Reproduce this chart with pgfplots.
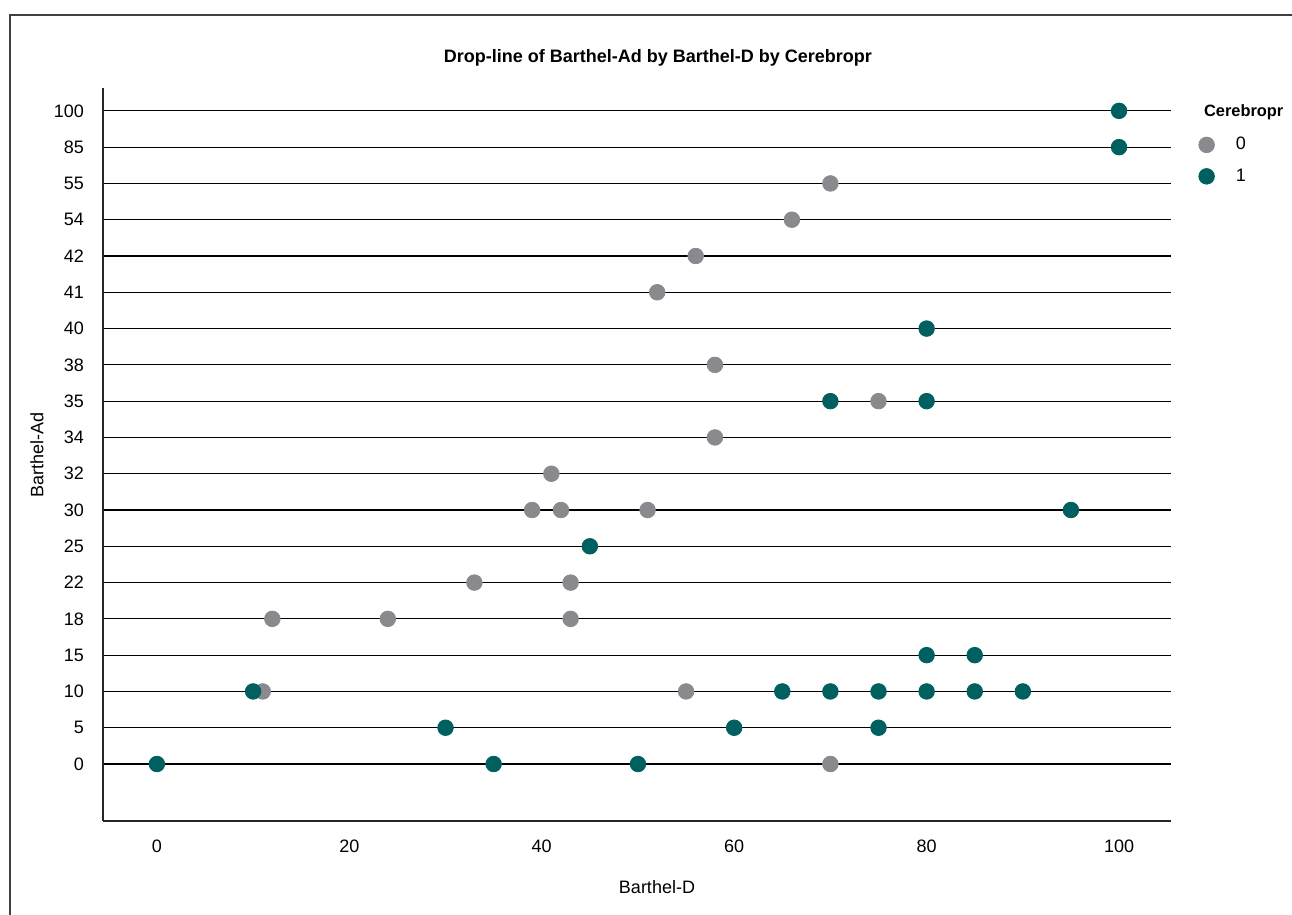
\documentclass[border=0pt]{standalone}
\usepackage{pgfplots}
\pgfplotsset{compat=1.18}
\usepackage{pgfplotstable}
\usepackage{fontspec}
\setmainfont{Liberation Sans}
\definecolor{cgray}{RGB}{138,138,142}
\definecolor{cteal}{RGB}{0,96,96}
\pgfplotstableread{
x y
70 16
66 15
56 14
52 13
58 11
75 10
58 9
41 8
39 7
42 7
51 7
33 5
43 5
12 4
24 4
43 4
11 2
55 2
70 0
}\graydata
\pgfplotstableread{
x y
100 18
100 17
80 12
70 10
80 10
95 7
45 6
80 3
85 3
10 2
65 2
70 2
75 2
80 2
85 2
90 2
30 1
60 1
75 1
0 0
35 0
50 0
}\tealdata
\begin{document}
\begin{tikzpicture}[x=1pt,y=1pt]
\useasboundingbox (0,0) rectangle (646,457.5);
\draw[line width=0.6pt, color=black!75] (5,-5) -- (5,450) -- (650,450);
\node[font=\bfseries\fontsize{9}{10.8}\selectfont] at (329,428.5) {Drop-line of Barthel-Ad by Barthel-D by Cerebropr};
\node[font=\fontsize{9}{10.8}\selectfont] at (328.5,14) {Barthel-D};
\node[font=\fontsize{9}{10.8}\selectfont, rotate=90] at (18.5,230) {Barthel-Ad};
\node[font=\bfseries\fontsize{8.2}{10}\selectfont, anchor=west] at (598.5,401.5) {Cerebropr};
\begin{axis}[
  at={(51.5pt,47pt)}, anchor=south west,
  width=534pt, height=366.5pt, scale only axis,
  xmin=-5.6, xmax=105.4, ymin=-1.57, ymax=18.63,
  axis x line*=bottom, axis y line*=left,
  axis line style={line width=0.6pt, black!85, -},
  xtick={0,20,40,60,80,100},
  ytick={0,...,18},
  yticklabels={0,5,10,15,18,22,25,30,32,34,35,38,40,41,42,54,55,85,100},
  major tick length=0pt,
  ymajorgrids, major grid style={line width=0.6pt, black},
  tick label style={font=\fontsize{9}{10.8}\selectfont},
  /pgf/number format/assume math mode=true,
  xticklabel style={yshift=-6pt},
  yticklabel style={xshift=-6pt},
  legend style={at={(1.0253,0.939)}, anchor=north west, draw=none, fill=none,
    font=\fontsize{9}{10.8}\selectfont, row sep=4pt, inner sep=0pt},
  legend cell align=left,
  legend image code/.code={\fill[#1] (0.3em,0) circle (3.9pt);},
  clip=false,
]
\addplot[only marks, mark=*, mark size=3.9pt, color=cgray, fill=cgray] table[x=x,y=y] {\graydata};
\addlegendentry{\hspace{8.5pt}0}
\addplot[only marks, mark=*, mark size=3.9pt, color=cteal, fill=cteal] table[x=x,y=y] {\tealdata};
\addlegendentry{\hspace{8.5pt}1}
\end{axis}
\end{tikzpicture}
\end{document}
